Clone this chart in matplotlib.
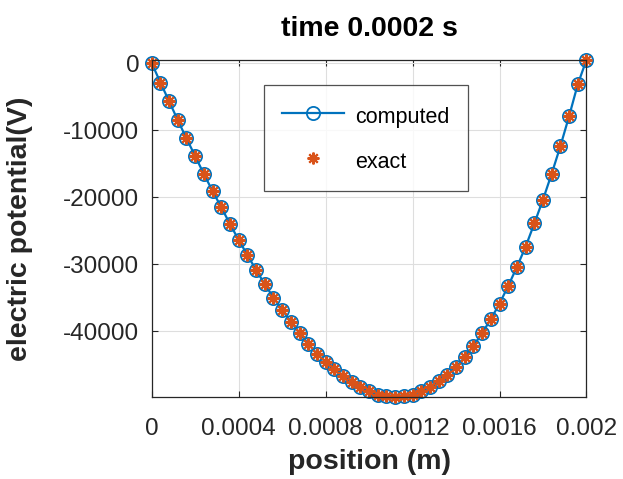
import numpy as np
import matplotlib.pyplot as plt
from matplotlib.ticker import FixedLocator, FixedFormatter

plt.rcParams['font.family'] = ['Liberation Sans', 'DejaVu Sans']
plt.rcParams['axes.unicode_minus'] = False

# ======================= DATA =======================
x_pos = np.linspace(0, 0.002, 51)
V_exact = [0, -2902, -5684, -8512, -11234, -13868, -16547, -19076, -21502, -23987,
           -26367, -28600, -30831, -32959, -34953, -36783, -38524, -40250, -41843, -43331,
           -44566, -45607, -46708, -47601, -48286, -48940, -49431, -49700, -49775, -49670,
           -49431, -48910, -48270, -47452, -46455, -45295, -43851, -42140, -40250, -38167,
           -35846, -33212, -30385, -27364, -23912, -20341, -16487, -12380, -7916, -3155,
           491]
V_comp = list(V_exact)

x_ticks = [0, 0.0004, 0.0008, 0.0012, 0.0016, 0.002]
x_ticklabels = ["0", "0.0004", "0.0008", "0.0012", "0.0016", "0.002"]
y_ticks = [0, -10000, -20000, -30000, -40000]
y_ticklabels = ["0", "-10000", "-20000", "-30000", "-40000"]

blue = '#0072BD'
orange = '#D95319'
dark = '#262626'

# ======================= PLOT =======================
fig = plt.figure(figsize=(6.23, 4.79), dpi=100)
ax = fig.add_axes([0.2435, 0.1712, 0.6979, 0.704])

ax.plot(x_pos, V_comp, '-o', color=blue, linewidth=1.6, markersize=9.5,
        markerfacecolor='none', markeredgewidth=1.3, label='computed', clip_on=False)
ax.plot(x_pos, V_exact, linestyle='none', marker=(8, 2, 0), color=orange,
        markersize=8.5, markeredgewidth=1.5, label='exact', clip_on=False)

ax.set_xlim(0, 0.002)
ax.set_ylim(min(V_exact), max(V_exact))
ax.xaxis.set_major_locator(FixedLocator(x_ticks))
ax.xaxis.set_major_formatter(FixedFormatter(x_ticklabels))
ax.yaxis.set_major_locator(FixedLocator(y_ticks))
ax.yaxis.set_major_formatter(FixedFormatter(y_ticklabels))

ax.grid(True, color='#dedede', linewidth=0.8)
ax.set_axisbelow(True)
ax.tick_params(direction='in', length=4, width=0.8, colors=dark, labelsize=17.5,
               top=True, right=True)
ax.tick_params(axis='x', pad=15)
ax.tick_params(axis='y', pad=9)
for sp in ax.spines.values():
    sp.set_color(dark)
    sp.set_linewidth(0.9)

ax.set_title("time 0.0002 s", fontsize=20.5, fontweight='bold', color='black', pad=17)
ax.set_xlabel("position (m)", fontsize=20.5, fontweight='bold', color=dark)
ax.set_ylabel("electric potential(V)", fontsize=20.5, fontweight='bold', color=dark)
ax.xaxis.set_label_coords(0.5, -0.155)
ax.yaxis.set_label_coords(-0.273, 0.5)

leg = ax.legend(loc='upper left', bbox_to_anchor=(0.259, 0.925), fontsize=15.5,
                frameon=True, fancybox=False, labelspacing=0.95, handlelength=2.85,
                handleheight=1.4, handletextpad=0.55, borderpad=0.84, borderaxespad=0)
leg.get_frame().set_edgecolor(dark)
leg.get_frame().set_linewidth(0.9)

fig.savefig("out.png", dpi=100)
plt.close(fig)
